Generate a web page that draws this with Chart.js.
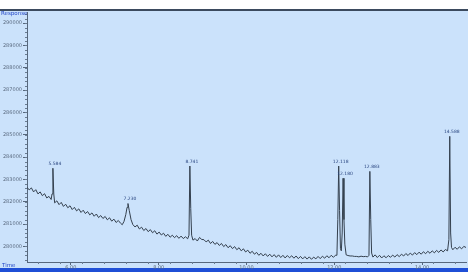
<!DOCTYPE html>
<html>
<head>
<meta charset="utf-8">
<script src="https://cdn.jsdelivr.net/npm/chart.js@4.4.1/dist/chart.umd.min.js"></script>
<style>
  html, body { margin: 0; padding: 0; background: #ffffff; }
  #wrap { width: 468px; height: 272px; }
</style>
</head>
<body>
<div id="wrap"><canvas id="canvas" width="468" height="272"></canvas></div>
<script>
// retention time (min) and detector response
var times = [
  5.00, 5.05, 5.10, 5.15, 5.20, 5.25, 5.30, 5.35, 5.40, 5.45, 5.50, 5.55, 5.57, 5.59, 5.61, 5.63,
  5.68, 5.73, 5.78, 5.83, 5.88, 5.93, 5.98, 6.03, 6.08, 6.13, 6.18, 6.23, 6.28, 6.33, 6.38, 6.43,
  6.48, 6.53, 6.58, 6.63, 6.68, 6.73, 6.78, 6.83, 6.88, 6.93, 6.98, 7.03, 7.08, 7.13, 7.17, 7.21,
  7.25, 7.28, 7.30, 7.33, 7.37, 7.41, 7.46, 7.51, 7.56, 7.61, 7.66, 7.71, 7.76, 7.81, 7.86, 7.91,
  7.96, 8.01, 8.06, 8.11, 8.16, 8.21, 8.26, 8.31, 8.36, 8.41, 8.46, 8.51, 8.56, 8.61, 8.66, 8.69,
  8.71, 8.73, 8.75, 8.78, 8.83, 8.88, 8.93, 8.98, 9.03, 9.08, 9.13, 9.18, 9.23, 9.28, 9.33, 9.38,
  9.43, 9.48, 9.53, 9.58, 9.63, 9.68, 9.73, 9.78, 9.83, 9.88, 9.93, 9.98, 10.03, 10.08, 10.13, 10.18,
  10.23, 10.28, 10.33, 10.38, 10.43, 10.48, 10.53, 10.58, 10.63, 10.68, 10.73, 10.78, 10.83, 10.88,
  10.93, 10.98, 11.03, 11.08, 11.13, 11.18, 11.23, 11.28, 11.33, 11.38, 11.43, 11.48, 11.53, 11.58,
  11.63, 11.68, 11.73, 11.78, 11.83, 11.88, 11.93, 11.98, 12.03, 12.06, 12.08, 12.10, 12.12, 12.14,
  12.16, 12.18, 12.20, 12.22, 12.24, 12.27, 12.31, 12.36, 12.41, 12.46, 12.51, 12.56, 12.61, 12.66,
  12.71, 12.76, 12.79, 12.81, 12.83, 12.85, 12.88, 12.93, 12.98, 13.03, 13.08, 13.13, 13.18, 13.23,
  13.28, 13.33, 13.38, 13.43, 13.48, 13.53, 13.58, 13.63, 13.68, 13.73, 13.78, 13.83, 13.88, 13.93,
  13.98, 14.03, 14.08, 14.13, 14.18, 14.23, 14.28, 14.33, 14.38, 14.43, 14.48, 14.53, 14.58, 14.61,
  14.63, 14.65, 14.67, 14.70, 14.75, 14.80, 14.85, 14.90, 14.95, 15.00
];
var responses = [
  282650, 282530, 282620, 282440, 282540, 282350, 282440, 282270, 282360, 282170, 282240, 282100, 282350, 283500, 282350, 281950,
  282040, 281870, 281970, 281790, 281890, 281730, 281820, 281650, 281750, 281590, 281680, 281520, 281620, 281470, 281560, 281410,
  281500, 281350, 281450, 281290, 281380, 281250, 281340, 281190, 281280, 281130, 281220, 281070, 281160, 281040, 280970, 281120,
  281420, 281750, 281920, 281600, 281200, 280980, 280870, 280950, 280780, 280860, 280710, 280800, 280660, 280750, 280610, 280700,
  280550, 280640, 280510, 280590, 280450, 280540, 280410, 280500, 280390, 280480, 280360, 280460, 280350, 280430, 280340, 280500,
  283600, 281700, 280500, 280280, 280350, 280240, 280400, 280310, 280300, 280200, 280280, 280130, 280220, 280090, 280170, 280040,
  280130, 279990, 280080, 279940, 280030, 279900, 279990, 279850, 279940, 279800, 279890, 279750, 279830, 279690, 279780, 279650,
  279730, 279600, 279690, 279570, 279670, 279550, 279650, 279530, 279630, 279510, 279620, 279500, 279600, 279480,
  279590, 279490, 279580, 279470, 279570, 279450, 279550, 279440, 279540, 279430, 279530, 279420, 279520, 279440,
  279550, 279450, 279560, 279470, 279580, 279490, 279600, 279510, 279610, 279600, 281200, 283600, 281600, 279900,
  279800, 280600, 283050, 281200, 280100, 279620, 279590, 279570, 279570, 279550, 279550, 279530, 279560, 279540,
  279550, 279530, 279600, 283360, 281200, 279700, 279520, 279620, 279500, 279600, 279480, 279580, 279490, 279590,
  279510, 279610, 279520, 279630, 279540, 279650, 279570, 279680, 279590, 279700, 279610, 279720, 279630, 279740,
  279650, 279760, 279670, 279780, 279690, 279800, 279710, 279820, 279730, 279840, 279750, 279860, 279800, 280300,
  284930, 280600, 279950, 279850, 279960, 279870, 279980, 279890, 280000, 279950
];

// labelled peaks
var peakTimes = [5.59, 7.30, 8.71, 12.10, 12.20, 12.81, 14.63];
var peakHeights = [283500, 281920, 283600, 283600, 283050, 283360, 284930];
var peakLabels = ['5.584', '7.230', '8.741', '12.118', '12.180', '12.883', '14.588'];

var xTicks = [6, 8, 10, 12, 14];
var yTicks = [280000, 281000, 282000, 283000, 284000, 285000, 286000, 287000, 288000, 289000, 290000];

var points = times.map(function(t, i) { return {x: t, y: responses[i]}; });

var frame = {
  id: 'frame',
  beforeDraw: function(chart) {
    var c = chart.ctx;
    c.save();
    c.fillStyle = '#ffffff';
    c.fillRect(0, 0, chart.width, chart.height);
    c.fillStyle = '#cbe2fb';
    c.fillRect(0, 11, chart.width, chart.height - 11);
    c.fillStyle = '#3b4a5e';
    c.fillRect(0, 9, chart.width, 2);
    c.fillStyle = '#1f4fd6';
    c.fillRect(0, 268, chart.width, 4);
    c.restore();
  },
  afterDraw: function(chart) {
    var c = chart.ctx, xs = chart.scales.x, ys = chart.scales.y;
    c.save();
    // minor ticks
    c.strokeStyle = '#6b7d92';
    c.lineWidth = 1;
    c.beginPath();
    for (var v = 279400; v <= 290400; v += 200) {
      var py = Math.round(ys.getPixelForValue(v)) + 0.5;
      c.moveTo(xs.left - 2, py); c.lineTo(xs.left, py);
    }
    for (var t = 5.25; t <= 15; t += 0.5) {
      var px = Math.round(xs.getPixelForValue(t)) + 0.5;
      c.moveTo(px, ys.bottom); c.lineTo(px, ys.bottom + 2);
    }
    c.stroke();
    // peak labels
    c.fillStyle = '#2a4680';
    c.font = '4.5px "DejaVu Sans"';
    c.textAlign = 'center';
    c.textBaseline = 'bottom';
    peakTimes.forEach(function(pt, i) {
      c.fillText(peakLabels[i], xs.getPixelForValue(pt) + 2, ys.getPixelForValue(peakHeights[i]) - 2);
    });
    // axis captions
    c.fillStyle = '#2448c8';
    c.textAlign = 'left';
    c.textBaseline = 'middle';
    c.font = '5.5px "DejaVu Sans"';
    c.fillText('Response', 1, 14);
    c.fillText('Time', 2, 266);
    c.restore();
  }
};

var config = {
  type: 'line',
  data: {
    datasets: [{
      label: 'Response',
      data: points,
      borderColor: '#34404e',
      borderWidth: 1,
      pointRadius: 0,
      fill: false,
      tension: 0
    }]
  },
  options: {
    animation: false,
    responsive: false,
    layout: { padding: { top: 12, right: 2, left: 0, bottom: 0 } },
    plugins: { legend: { display: false }, tooltip: { enabled: false } },
    scales: {
      x: {
        type: 'linear',
        min: 5.0,
        max: 15.0,
        afterBuildTicks: function(s) { s.ticks = xTicks.map(function(v) { return {value: v}; }); },
        afterFit: function(s) { s.height = 10; },
        border: { display: true, color: '#56677c', width: 1 },
        grid: { drawOnChartArea: false, drawTicks: true, tickLength: 3, color: '#56677c' },
        ticks: {
          padding: 0,
          maxRotation: 0,
          color: '#5b6b80',
          font: { size: 5, family: 'DejaVu Sans' },
          callback: function(v) { return v.toFixed(2); }
        }
      },
      y: {
        type: 'linear',
        min: 279300,
        max: 290500,
        afterBuildTicks: function(s) { s.ticks = yTicks.map(function(v) { return {value: v}; }); },
        afterFit: function(s) { s.width = 27; },
        border: { display: true, color: '#56677c', width: 1 },
        grid: { drawOnChartArea: false, drawTicks: true, tickLength: 4, color: '#56677c' },
        ticks: {
          padding: 1,
          color: '#5b6b80',
          font: { size: 5, family: 'DejaVu Sans' },
          callback: function(v) { return String(v); }
        }
      }
    }
  },
  plugins: [frame]
};

window.onload = function() {
  var ctx = document.getElementById('canvas').getContext('2d');
  window.myLine = new Chart(ctx, config);
};
</script>
</body>
</html>
